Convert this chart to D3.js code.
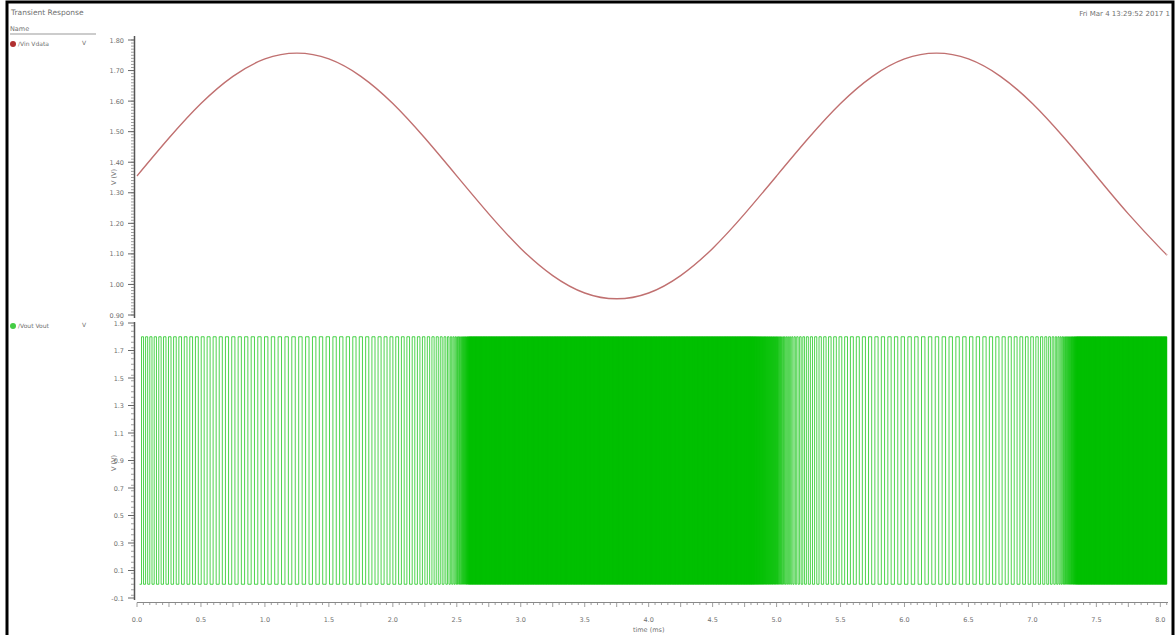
<!DOCTYPE html>
<html><head><meta charset="utf-8">
<script src="https://cdn.jsdelivr.net/npm/d3@7"></script>
<style>
body{margin:0;background:#fff;}
svg{display:block;}
text{font-family:"DejaVu Sans",sans-serif;}
</style>
</head><body>
<svg id="c" width="1176" height="635"></svg>
<script>
// ---- data ----
const xTickValues = [0,0.5,1,1.5,2,2.5,3,3.5,4,4.5,5,5.5,6,6.5,7,7.5,8];
const xTickLabels = ["0.0","0.5","1.0","1.5","2.0","2.5","3.0","3.5","4.0","4.5","5.0","5.5","6.0","6.5","7.0","7.5","8.0"];
const topTickValues = [1.8,1.7,1.6,1.5,1.4,1.3,1.2,1.1,1.0,0.9];
const topTickLabels = ["1.80","1.70","1.60","1.50","1.40","1.30","1.20","1.10","1.00","0.90"];
const botTickValues = [1.9,1.7,1.5,1.3,1.1,0.9,0.7,0.5,0.3,0.1,-0.1];
const botTickLabels = ["1.9","1.7","1.5","1.3","1.1","0.9","0.7","0.5","0.3","0.1","-0.1"];

// input sine (Vin), time in ms
const vinTime  = [0,0.25,0.5,0.75,1.0,1.25,1.5,1.75,2.0,2.25,2.5,2.75,3.0,3.25,3.5,3.75,4.0,4.25,4.5,4.75,5.0,5.25,5.5,5.75,6.0,6.25,6.5,6.75,7.0,7.25,7.5,7.75,8.0,8.05];
const vinValue = [1.355,1.479,1.592,1.681,1.738,1.757,1.738,1.681,1.592,1.479,1.355,1.231,1.118,1.029,0.972,0.953,0.972,1.029,1.118,1.231,1.355,1.479,1.592,1.681,1.738,1.757,1.738,1.681,1.592,1.479,1.355,1.231,1.118,1.098];

// output oscillation period (ms) along time, estimated from stripe spacing
const voutPeriodTime = [0,0.25,0.5,0.75,1.0,1.25,1.5,1.75,2.0,2.25,2.4,2.5,2.6,3.0,4.0,4.8,5.0,5.1,5.25,5.5,5.75,6.0,6.25,6.5,6.75,7.0,7.15,7.25,7.35,8.06];
const voutPeriod     = [0.030,0.040,0.046,0.050,0.053,0.054,0.053,0.050,0.045,0.038,0.028,0.012,0.003,0.003,0.003,0.003,0.006,0.016,0.032,0.044,0.050,0.053,0.054,0.053,0.049,0.040,0.026,0.010,0.003,0.003];
const voutHigh = 1.8, voutLow = 0.0;

// ---- drawing ----
const svg = d3.select("#c");
const grey = "#707070";

const x = d3.scaleLinear().domain([0, 8.06]).range([137, 1168]);
const yTop = d3.scaleLinear().domain([0.9, 1.8]).range([315, 40]);
const yBot = d3.scaleLinear().domain([-0.1, 1.9]).range([598, 323]);

// border
svg.append("rect").attr("x",7).attr("y",2).attr("width",1166).attr("height",640)
  .attr("fill","none").attr("stroke","#000").attr("stroke-width",3);

// header texts
svg.append("text").attr("x",11).attr("y",15).attr("font-size",7.5).attr("fill",grey).text("Transient Response");
svg.append("text").attr("x",1170).attr("y",16).attr("font-size",7).attr("fill",grey).attr("text-anchor","end").text("Fri Mar 4 13:29:52 2017  1");

// legend
svg.append("text").attr("x",10).attr("y",31).attr("font-size",6.5).attr("fill",grey).text("Name");
svg.append("line").attr("x1",10).attr("x2",96).attr("y1",34).attr("y2",34).attr("stroke","#999").attr("stroke-width",1);
svg.append("circle").attr("cx",13).attr("cy",44).attr("r",3).attr("fill","#b03030");
svg.append("text").attr("x",18).attr("y",46).attr("font-size",6).attr("fill",grey).text("/Vin Vdata");
svg.append("text").attr("x",82).attr("y",45).attr("font-size",6).attr("fill",grey).text("V");
svg.append("circle").attr("cx",13).attr("cy",326).attr("r",3).attr("fill","#44cc44");
svg.append("text").attr("x",18).attr("y",328).attr("font-size",6).attr("fill",grey).text("/Vout Vout");
svg.append("text").attr("x",82).attr("y",327).attr("font-size",6).attr("fill",grey).text("V");

// y axes
function yAxis(scale, y0, y1, major, labels, minorStep, title, titleY) {
  const g = svg.append("g");
  g.append("line").attr("x1",134.5).attr("x2",134.5).attr("y1",y0).attr("y2",y1).attr("stroke","#555").attr("stroke-width",1.5);
  const d = scale.domain();
  const minors = d3.range(Math.ceil(d[0]/minorStep)*minorStep, d[1]+1e-9, minorStep);
  g.selectAll(".mn").data(minors).join("line")
    .attr("x1",131).attr("x2",134).attr("y1",v=>scale(v)).attr("y2",v=>scale(v))
    .attr("stroke","#888").attr("stroke-width",0.8);
  g.selectAll(".mj").data(major).join("line")
    .attr("x1",128).attr("x2",134).attr("y1",v=>scale(v)).attr("y2",v=>scale(v))
    .attr("stroke","#666").attr("stroke-width",1);
  g.selectAll(".lb").data(major).join("text")
    .attr("x",124).attr("y",v=>scale(v)+2.5).attr("text-anchor","end")
    .attr("font-size",6.5).attr("fill",grey).text((v,i)=>labels[i]);
  g.append("text").attr("transform",`translate(116,${titleY}) rotate(-90)`)
    .attr("text-anchor","middle").attr("font-size",6.5).attr("fill",grey).text(title);
}
yAxis(yTop, 36, 318, topTickValues, topTickLabels, 0.01, "V (V)", 177);
yAxis(yBot, 322, 600, botTickValues, botTickLabels, 0.04, "V (V)", 463);

// x axis
const xg = svg.append("g");
xg.append("line").attr("x1",137).attr("x2",1168).attr("y1",602.5).attr("y2",602.5).attr("stroke","#888").attr("stroke-width",1);
const xMinor = d3.range(0, 8.06, 0.05);
xg.selectAll(".xm").data(xMinor).join("line")
  .attr("x1",v=>x(v)).attr("x2",v=>x(v)).attr("y1",602.5).attr("y2",v=>(Math.abs(v*4-Math.round(v*4))<1e-6)?607:605)
  .attr("stroke","#888").attr("stroke-width",0.8);
xg.selectAll(".xl").data(xTickValues).join("text")
  .attr("x",v=>x(v)).attr("y",622).attr("text-anchor","middle")
  .attr("font-size",6.5).attr("fill",grey).text((v,i)=>xTickLabels[i]);
xg.append("text").attr("x",x(4)).attr("y",632).attr("text-anchor","middle")
  .attr("font-size",6.5).attr("fill",grey).text("time (ms)");

// Vin sine
svg.append("path")
  .datum(vinTime.map((t,i)=>[t,vinValue[i]]))
  .attr("fill","none").attr("stroke","#c07070").attr("stroke-width",1.4)
  .attr("d", d3.line().x(d=>x(d[0])).y(d=>yTop(d[1])).curve(d3.curveNatural));

// Vout square wave built from the period profile
const periodAt = d3.scaleLinear().domain(voutPeriodTime).range(voutPeriod).clamp(true);
const pts = [];
let t = 0.02, level = voutLow;
pts.push([t, level]);
while (t < 8.05) {
  const half = periodAt(t) / 2;
  t = Math.min(t + half, 8.05);
  pts.push([t, level]);
  level = (level === voutHigh) ? voutLow : voutHigh;
  pts.push([t, level]);
}
svg.append("path")
  .datum(pts)
  .attr("fill","none").attr("stroke","#00c000").attr("stroke-width",0.7)
  .attr("d", d3.line().x(d=>x(d[0])).y(d=>yBot(d[1])));
</script>
</body></html>
